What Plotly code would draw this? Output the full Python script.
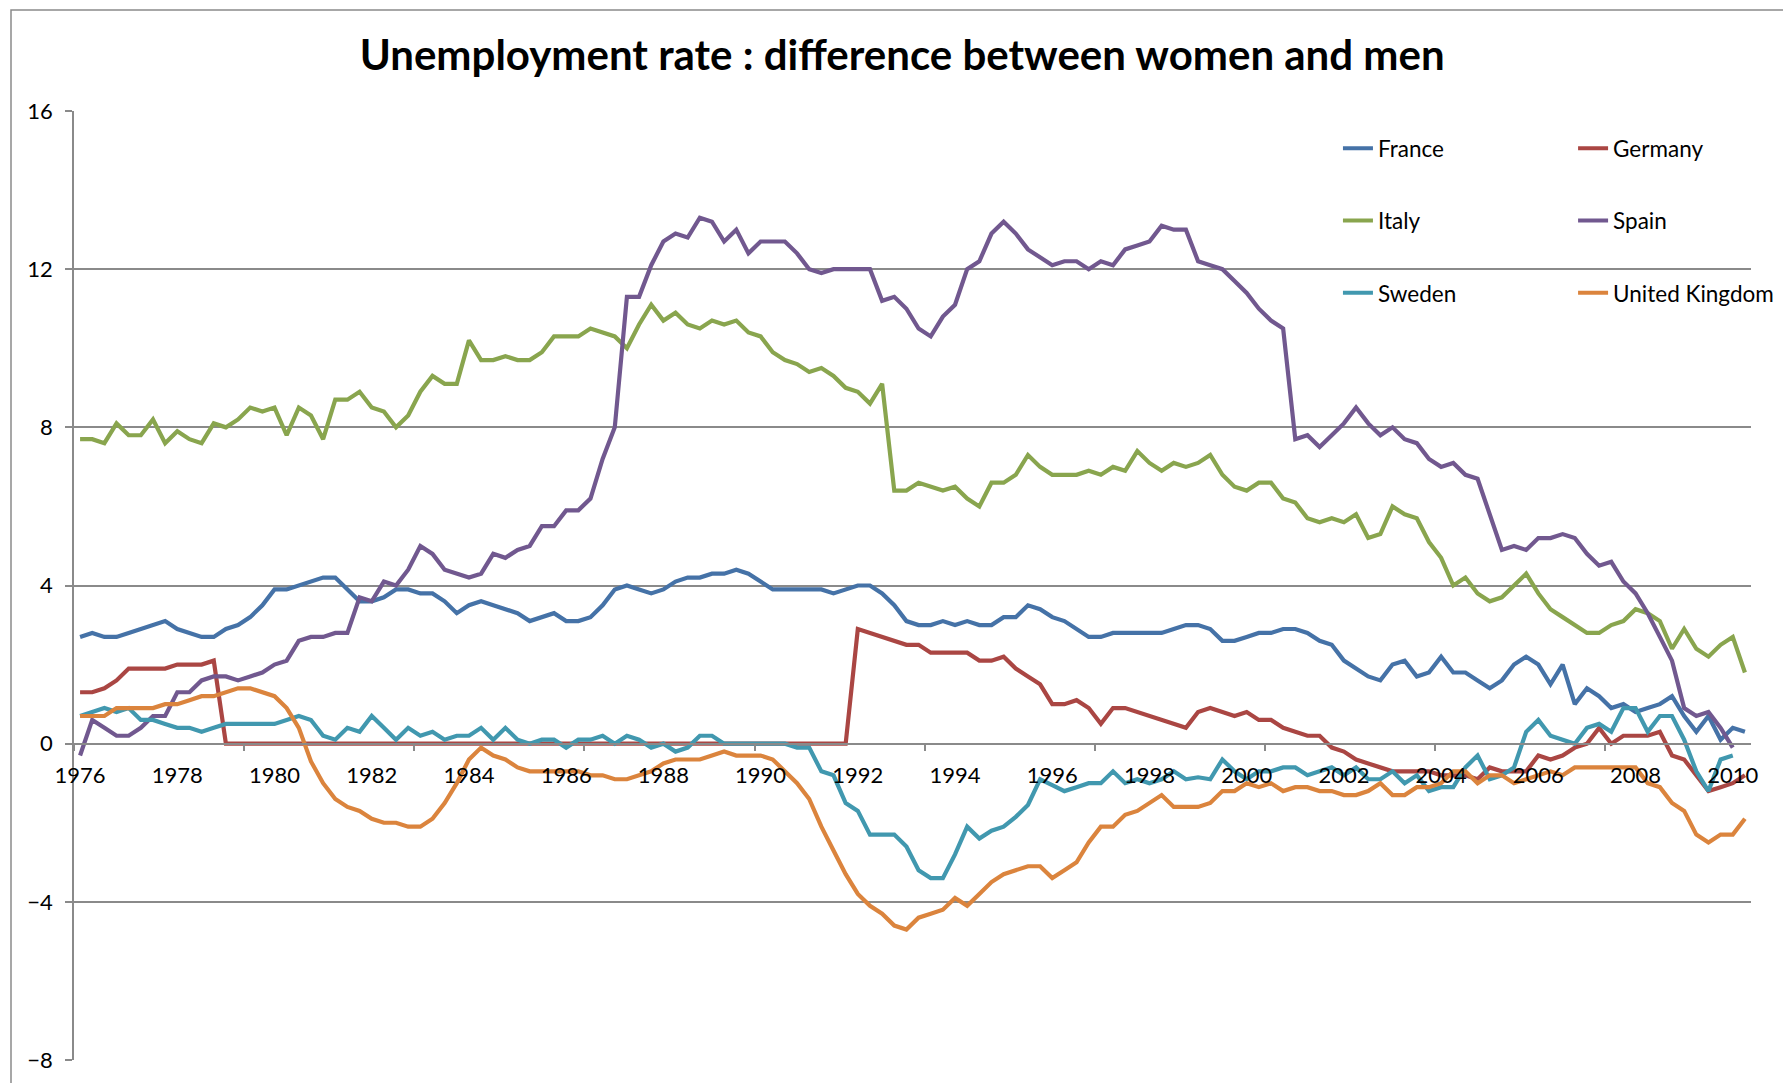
import plotly.graph_objects as go

# quarterly data 1976Q1 - 2010Q2, women minus men unemployment rate (pp)
quarters = [f"{y}Q{q}" for y in range(1976, 2011) for q in range(1, 5)][:138]

france = [2.7, 2.8, 2.7, 2.7, 2.8, 2.9, 3.0, 3.1, 2.9, 2.8, 2.7, 2.7, 2.9, 3.0, 3.2, 3.5, 3.9, 3.9, 4.0, 4.1,
          4.2, 4.2, 3.9, 3.6, 3.6, 3.7, 3.9, 3.9, 3.8, 3.8, 3.6, 3.3, 3.5, 3.6, 3.5, 3.4, 3.3, 3.1, 3.2, 3.3,
          3.1, 3.1, 3.2, 3.5, 3.9, 4.0, 3.9, 3.8, 3.9, 4.1, 4.2, 4.2, 4.3, 4.3, 4.4, 4.3, 4.1, 3.9, 3.9, 3.9,
          3.9, 3.9, 3.8, 3.9, 4.0, 4.0, 3.8, 3.5, 3.1, 3.0, 3.0, 3.1, 3.0, 3.1, 3.0, 3.0, 3.2, 3.2, 3.5, 3.4,
          3.2, 3.1, 2.9, 2.7, 2.7, 2.8, 2.8, 2.8, 2.8, 2.8, 2.9, 3.0, 3.0, 2.9, 2.6, 2.6, 2.7, 2.8, 2.8, 2.9,
          2.9, 2.8, 2.6, 2.5, 2.1, 1.9, 1.7, 1.6, 2.0, 2.1, 1.7, 1.8, 2.2, 1.8, 1.8, 1.6, 1.4, 1.6, 2.0, 2.2,
          2.0, 1.5, 2.0, 1.0, 1.4, 1.2, 0.9, 1.0, 0.8, 0.9, 1.0, 1.2, 0.7, 0.3, 0.7, 0.1, 0.4, 0.3]

germany = [1.3, 1.3, 1.4, 1.6, 1.9, 1.9, 1.9, 1.9, 2.0, 2.0, 2.0, 2.1] + [0.0] * 52 + \
          [2.9, 2.8, 2.7, 2.6, 2.5, 2.5, 2.3, 2.3, 2.3, 2.3, 2.1, 2.1, 2.2, 1.9, 1.7, 1.5, 1.0, 1.0, 1.1, 0.9,
           0.5, 0.9, 0.9, 0.8, 0.7, 0.6, 0.5, 0.4, 0.8, 0.9, 0.8, 0.7, 0.8, 0.6, 0.6, 0.4, 0.3, 0.2, 0.2, -0.1,
           -0.2, -0.4, -0.5, -0.6, -0.7, -0.7, -0.7, -0.7, -0.8, -0.8, -0.8, -0.9, -0.6, -0.7, -0.7, -0.7, -0.3,
           -0.4, -0.3, -0.1, 0.0, 0.4, 0.0, 0.2, 0.2, 0.2, 0.3, -0.3, -0.4, -0.8, -1.2, -1.1, -1.0, -0.8]

italy = [7.7, 7.7, 7.6, 8.1, 7.8, 7.8, 8.2, 7.6, 7.9, 7.7, 7.6, 8.1, 8.0, 8.2, 8.5, 8.4, 8.5, 7.8, 8.5, 8.3,
         7.7, 8.7, 8.7, 8.9, 8.5, 8.4, 8.0, 8.3, 8.9, 9.3, 9.1, 9.1, 10.2, 9.7, 9.7, 9.8, 9.7, 9.7, 9.9, 10.3,
         10.3, 10.3, 10.5, 10.4, 10.3, 10.0, 10.6, 11.1, 10.7, 10.9, 10.6, 10.5, 10.7, 10.6, 10.7, 10.4, 10.3,
         9.9, 9.7, 9.6, 9.4, 9.5, 9.3, 9.0, 8.9, 8.6, 9.1, 6.4, 6.4, 6.6, 6.5, 6.4, 6.5, 6.2, 6.0, 6.6, 6.6,
         6.8, 7.3, 7.0, 6.8, 6.8, 6.8, 6.9, 6.8, 7.0, 6.9, 7.4, 7.1, 6.9, 7.1, 7.0, 7.1, 7.3, 6.8, 6.5, 6.4,
         6.6, 6.6, 6.2, 6.1, 5.7, 5.6, 5.7, 5.6, 5.8, 5.2, 5.3, 6.0, 5.8, 5.7, 5.1, 4.7, 4.0, 4.2, 3.8, 3.6,
         3.7, 4.0, 4.3, 3.8, 3.4, 3.2, 3.0, 2.8, 2.8, 3.0, 3.1, 3.4, 3.3, 3.1, 2.4, 2.9, 2.4, 2.2, 2.5, 2.7, 1.8]

spain = [-0.3, 0.6, 0.4, 0.2, 0.2, 0.4, 0.7, 0.7, 1.3, 1.3, 1.6, 1.7, 1.7, 1.6, 1.7, 1.8, 2.0, 2.1, 2.6, 2.7,
         2.7, 2.8, 2.8, 3.7, 3.6, 4.1, 4.0, 4.4, 5.0, 4.8, 4.4, 4.3, 4.2, 4.3, 4.8, 4.7, 4.9, 5.0, 5.5, 5.5,
         5.9, 5.9, 6.2, 7.2, 8.0, 11.3, 11.3, 12.1, 12.7, 12.9, 12.8, 13.3, 13.2, 12.7, 13.0, 12.4, 12.7, 12.7,
         12.7, 12.4, 12.0, 11.9, 12.0, 12.0, 12.0, 12.0, 11.2, 11.3, 11.0, 10.5, 10.3, 10.8, 11.1, 12.0, 12.2,
         12.9, 13.2, 12.9, 12.5, 12.3, 12.1, 12.2, 12.2, 12.0, 12.2, 12.1, 12.5, 12.6, 12.7, 13.1, 13.0, 13.0,
         12.2, 12.1, 12.0, 11.7, 11.4, 11.0, 10.7, 10.5, 7.7, 7.8, 7.5, 7.8, 8.1, 8.5, 8.1, 7.8, 8.0, 7.7, 7.6,
         7.2, 7.0, 7.1, 6.8, 6.7, 5.8, 4.9, 5.0, 4.9, 5.2, 5.2, 5.3, 5.2, 4.8, 4.5, 4.6, 4.1, 3.8, 3.3, 2.7,
         2.1, 0.9, 0.7, 0.8, 0.4, -0.1, None]

sweden = [0.7, 0.8, 0.9, 0.8, 0.9, 0.6, 0.6, 0.5, 0.4, 0.4, 0.3, 0.4, 0.5, 0.5, 0.5, 0.5, 0.5, 0.6, 0.7, 0.6,
          0.2, 0.1, 0.4, 0.3, 0.7, 0.4, 0.1, 0.4, 0.2, 0.3, 0.1, 0.2, 0.2, 0.4, 0.1, 0.4, 0.1, 0.0, 0.1, 0.1,
          -0.1, 0.1, 0.1, 0.2, 0.0, 0.2, 0.1, -0.1, 0.0, -0.2, -0.1, 0.2, 0.2, 0.0, 0.0, 0.0, 0.0, 0.0, 0.0,
          -0.1, -0.1, -0.7, -0.8, -1.5, -1.7, -2.3, -2.3, -2.3, -2.6, -3.2, -3.4, -3.4, -2.8, -2.1, -2.4, -2.2,
          -2.1, -1.85, -1.55, -0.9, -1.05, -1.2, -1.1, -1.0, -1.0, -0.7, -1.0, -0.9, -1.0, -0.9, -0.7, -0.9,
          -0.85, -0.9, -0.4, -0.7, -0.9, -0.7, -0.7, -0.6, -0.6, -0.8, -0.7, -0.6, -0.8, -0.6, -0.9, -0.9, -0.7,
          -1.0, -0.8, -1.2, -1.1, -1.1, -0.6, -0.3, -0.9, -0.8, -0.6, 0.3, 0.6, 0.2, 0.1, 0.0, 0.4, 0.5, 0.3,
          0.9, 0.9, 0.3, 0.7, 0.7, 0.1, -0.7, -1.2, -0.4, -0.3, None]

uk = [0.7, 0.7, 0.7, 0.9, 0.9, 0.9, 0.9, 1.0, 1.0, 1.1, 1.2, 1.2, 1.3, 1.4, 1.4, 1.3, 1.2, 0.9, 0.4, -0.45,
      -1.0, -1.4, -1.6, -1.7, -1.9, -2.0, -2.0, -2.1, -2.1, -1.9, -1.5, -1.0, -0.4, -0.1, -0.3, -0.4, -0.6,
      -0.7, -0.7, -0.7, -0.7, -0.7, -0.8, -0.8, -0.9, -0.9, -0.8, -0.7, -0.5, -0.4, -0.4, -0.4, -0.3, -0.2,
      -0.3, -0.3, -0.3, -0.4, -0.7, -1.0, -1.4, -2.1, -2.7, -3.3, -3.8, -4.1, -4.3, -4.6, -4.7, -4.4, -4.3,
      -4.2, -3.9, -4.1, -3.8, -3.5, -3.3, -3.2, -3.1, -3.1, -3.4, -3.2, -3.0, -2.5, -2.1, -2.1, -1.8, -1.7,
      -1.5, -1.3, -1.6, -1.6, -1.6, -1.5, -1.2, -1.2, -1.0, -1.1, -1.0, -1.2, -1.1, -1.1, -1.2, -1.2, -1.3,
      -1.3, -1.2, -1.0, -1.3, -1.3, -1.1, -1.1, -1.0, -0.7, -0.7, -1.0, -0.8, -0.8, -1.0, -0.9, -0.8, -0.7,
      -0.8, -0.6, -0.6, -0.6, -0.6, -0.6, -0.6, -1.0, -1.1, -1.5, -1.7, -2.3, -2.5, -2.3, -2.3, -1.9]

label_years = list(range(1976, 2011, 2))

series = [("France", france, "#4572A7", "legend"),
          ("Germany", germany, "#AA4643", "legend2"),
          ("Italy", italy, "#89A54E", "legend"),
          ("Spain", spain, "#71588F", "legend2"),
          ("Sweden", sweden, "#4198AF", "legend"),
          ("United Kingdom", uk, "#DB843D", "legend2")]

# quarter label -> decimal year, so each category sits at its own slot
xpos = [int(s[:4]) + (int(s[5]) - 1) / 4 for s in quarters]

font_name = "Lato"
grey = "#8a8a8a"

fig = go.Figure()
for name, vals, col, leg in series:
    fig.add_trace(go.Scatter(
        x=xpos, y=vals, name=name, mode="lines",
        line=dict(color=col, width=4.2),
        legend=leg, legendgroup=name,
        text=quarters, hovertemplate="%{text}: %{y}<extra>" + name + "</extra>"
    ))

fig.update_layout(
    width=1783, height=1083,
    margin=dict(l=74, r=32, t=111, b=23, autoexpand=False),
    paper_bgcolor="white", plot_bgcolor="white",
    font=dict(family=font_name, size=22, color="black"),
    title=dict(text="Unemployment rate : difference between women and men",
               x=0.506, xref="container", xanchor="center",
               y=1 - 55 / 1083, yref="container", yanchor="middle",
               font=dict(family=font_name, size=42, weight="bold", color="black")),
    showlegend=True,
    legend=dict(x=0.7537, xanchor="left", y=0.983, yanchor="top",
                font=dict(size=22.5), tracegroupgap=40, bgcolor="rgba(0,0,0,0)"),
    legend2=dict(x=0.8939, xanchor="left", y=0.983, yanchor="top",
                 font=dict(size=22.5), tracegroupgap=40, bgcolor="rgba(0,0,0,0)"),
    xaxis=dict(range=[1975.875, 2010.375], anchor="free", position=1 / 3,
               tickmode="array", tickvals=label_years, ticktext=[str(y) for y in label_years],
               ticks="", showgrid=False, zeroline=False, automargin=False,
               showline=True, linecolor=grey, linewidth=1.5,
               ticklabelstandoff=12,
               minor=dict(tickmode="linear", tick0=1979.375, dtick=3.5, ticks="outside",
                          ticklen=7, tickcolor=grey, tickwidth=1.5, showgrid=False)),
    yaxis=dict(range=[-8, 16], tickmode="linear", tick0=-8, dtick=4,
               showgrid=True, gridcolor=grey, gridwidth=1.5, zeroline=False, automargin=False,
               showline=True, linecolor=grey, linewidth=1.5,
               ticks="outside", ticklen=7, tickcolor=grey, tickwidth=1.5,
               ticklabelstandoff=8),
    shapes=[dict(type="rect", xref="paper", yref="paper",
                 x0=(11 - 74) / 1677, x1=1.2, y0=-0.2, y1=(1060 - 10) / 949,
                 line=dict(color=grey, width=1.5), layer="below")]
)

# page body has a default 8px margin; remove it so the chart sits at the window origin
fig.write_html("out.html", config={"displayModeBar": False},
               post_script="document.body.style.margin='0';")
